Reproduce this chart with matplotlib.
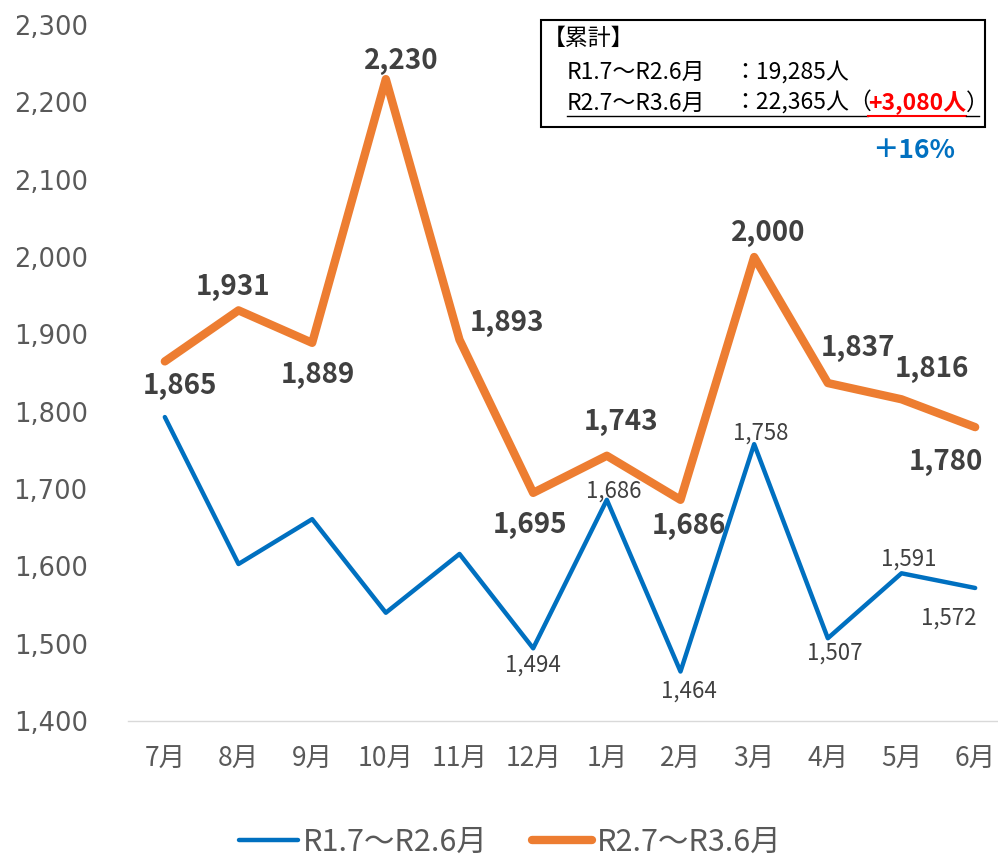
import matplotlib
matplotlib.use("Agg")
import matplotlib.pyplot as plt
from matplotlib.patches import Rectangle
from matplotlib.lines import Line2D

plt.rcParams['font.family'] = ['Noto Sans CJK JP', 'DejaVu Sans']

# data
months = ['7月', '8月', '9月', '10月', '11月', '12月', '1月', '2月', '3月', '4月', '5月', '6月']
prev_year = [1793, 1603, 1661, 1540, 1616, 1494, 1686, 1464, 1758, 1507, 1591, 1572]
this_year = [1865, 1931, 1889, 2230, 1893, 1695, 1743, 1686, 2000, 1837, 1816, 1780]
prev_label = 'R1.7〜R2.6月'
this_label = 'R2.7〜R3.6月'
yticks = list(range(1400, 2301, 100))

# label offsets in points
this_offsets = [(11, -18), (-4, 17), (4, -23), (11, 13), (34, 12), (-2, -23),
                (10, 24), (6, -19), (10, 17), (22, 25), (22, 22), (-21, -25)]
prev_show = [False, False, False, False, False, True, True, True, True, True, True, True]
prev_offsets = [(0, 0)] * 5 + [(0, -12), (5, 6), (6, -14), (5, 8), (5, -11), (5, 10), (-19, -22)]

BLUE = '#0070C0'
ORANGE = '#ED7D31'
GREY = '#595959'
DARK = '#404040'

W, H = 998, 856
fig = plt.figure(figsize=(W / 100, H / 100), dpi=100)


def fx(x):
    return x / W


def fy(y):
    return 1 - y / H


ax = fig.add_axes([fx(128), fy(721), fx(998) - fx(128), fy(25) - fy(721)])
x = list(range(len(months)))
ax.plot(x, prev_year, color=BLUE, lw=3.2, solid_capstyle='round', solid_joinstyle='round', label=prev_label)
ax.plot(x, this_year, color=ORANGE, lw=6, solid_capstyle='round', solid_joinstyle='round', label=this_label)

ax.set_xlim(-0.5, 11.31)
ax.set_ylim(1400, 2300)
ax.set_yticks(yticks)
ax.set_yticklabels([f'{v:,}' for v in yticks], family='DejaVu Sans')
ax.set_xticks(x)
ax.set_xticklabels(months)
ax.tick_params(axis='y', length=0, pad=29, labelsize=18.5, labelcolor=GREY)
ax.tick_params(axis='x', length=0, pad=18, labelsize=19, labelcolor=GREY)
for s in ['top', 'right', 'left']:
    ax.spines[s].set_visible(False)
ax.spines['bottom'].set_color('#D9D9D9')
ax.spines['bottom'].set_linewidth(1)

for i, v in enumerate(this_year):
    ax.annotate(f'{v:,}', (i, v), xytext=this_offsets[i], textcoords='offset points',
                ha='center', va='center', fontsize=20, fontweight='bold', color=DARK)
for i, v in enumerate(prev_year):
    if prev_show[i]:
        ax.annotate(f'{v:,}', (i, v), xytext=prev_offsets[i], textcoords='offset points',
                    ha='center', va='center', fontsize=16, color=DARK)

# summary box
fig.patches.append(Rectangle((fx(541), fy(127)), fx(985) - fx(541), fy(20) - fy(127),
                             transform=fig.transFigure, fill=False, edgecolor='black', lw=1.5))
fs = 16.5
fig.text(fx(543), fy(38), '【累計】', fontsize=fs, va='center', ha='left')
fig.text(fx(567), fy(72), prev_label, fontsize=fs, va='center', ha='left')
fig.text(fx(733), fy(72), '：19,285人', fontsize=fs, va='center', ha='left')
fig.text(fx(567), fy(103), this_label, fontsize=fs, va='center', ha='left')
t2 = fig.text(fx(733), fy(103), '：22,365人（', fontsize=fs, va='center', ha='left')
fig.canvas.draw()
r = fig.canvas.get_renderer()
b2 = t2.get_window_extent(r)
t3 = fig.text(b2.x1 / W - 0.004, fy(103), '+3,080人', fontsize=fs, fontweight='bold', color='#FF0000',
              va='center', ha='left')
fig.canvas.draw()
b3 = t3.get_window_extent(r)
t4 = fig.text(b3.x1 / W, fy(103), '）', fontsize=fs, va='center', ha='left')
uy = fy(116)
fig.lines.append(Line2D([fx(567), b3.x0 / W], [uy, uy], transform=fig.transFigure, color='black', lw=1))
fig.lines.append(Line2D([b3.x0 / W, b3.x1 / W], [uy, uy], transform=fig.transFigure, color='#FF0000', lw=1.5))
fig.lines.append(Line2D([b3.x1 / W, b3.x1 / W + 0.013], [uy, uy], transform=fig.transFigure, color='black', lw=1))

fig.text(fx(914), fy(151), '＋16%', fontsize=19, fontweight='bold', color=BLUE, ha='center', va='center')

fig.legend(loc='center', bbox_to_anchor=(fx(510), fy(842)), ncol=2, frameon=False, fontsize=22,
           labelcolor=GREY, handlelength=1.95, handletextpad=0.15, columnspacing=1.45)

fig.savefig('out.png', dpi=100)
